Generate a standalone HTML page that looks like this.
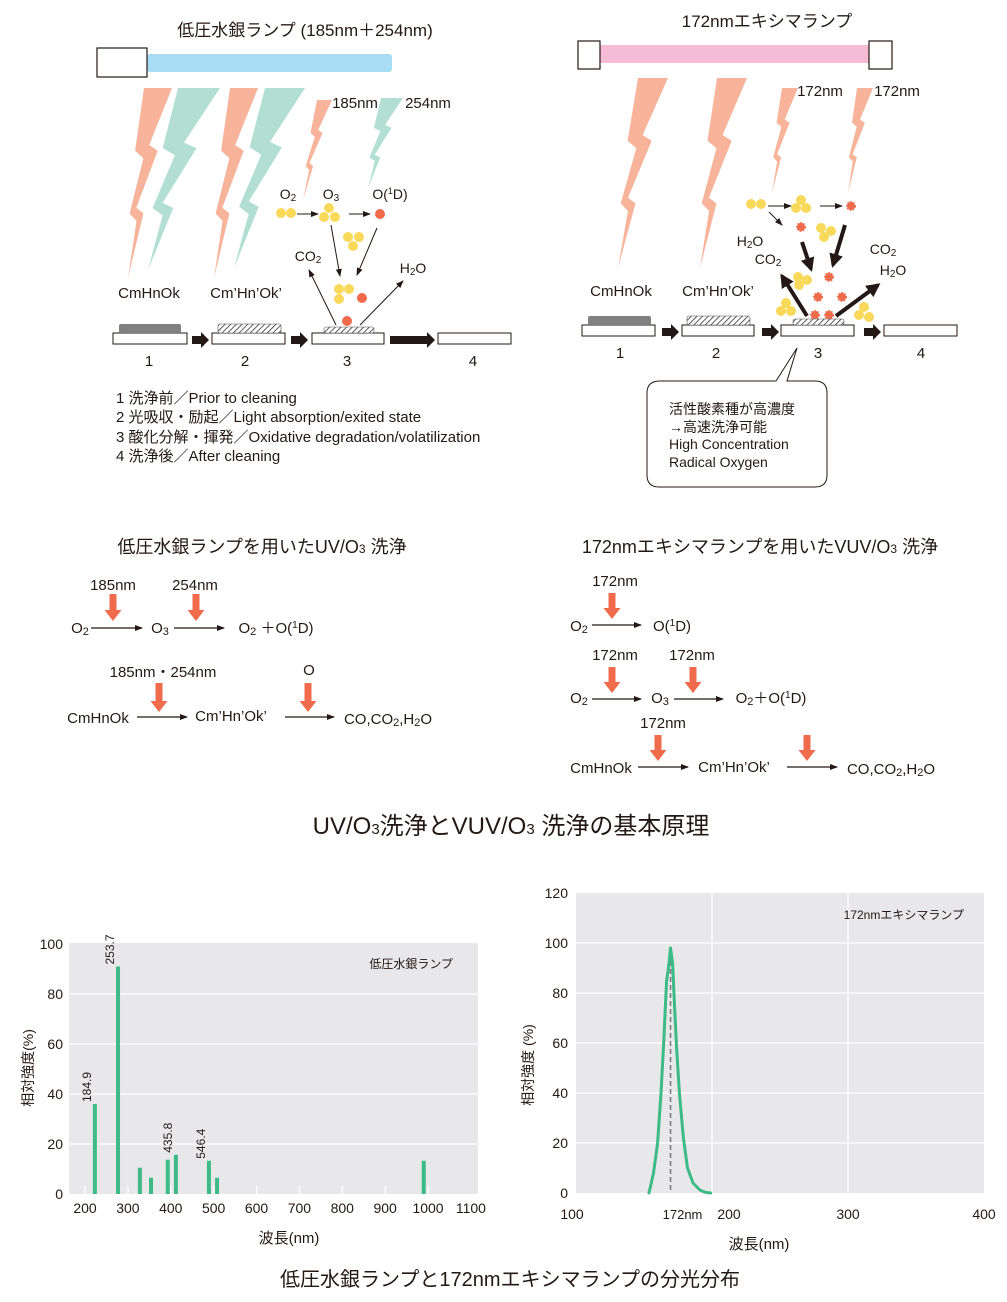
<!DOCTYPE html>
<html><head><meta charset="utf-8">
<style>
html,body{margin:0;padding:0;background:#fff;}
svg{display:block;font-family:"Liberation Sans","Noto Sans CJK JP",sans-serif;}
text{fill:#231815;}
</style></head>
<body>
<svg id="root" width="1007" height="1302" viewBox="0 0 1007 1302" xmlns="http://www.w3.org/2000/svg">
<defs>
<pattern id="hatch" width="4" height="4" patternUnits="userSpaceOnUse" patternTransform="rotate(45)">
<rect width="4" height="4" fill="#fff"/><line x1="0" y1="0" x2="0" y2="4" stroke="#333" stroke-width="1.6"/></pattern>
<marker id="ah" markerWidth="8" markerHeight="8" refX="7" refY="4" orient="auto" markerUnits="userSpaceOnUse"><path d="M0,1 L8,4 L0,7 Z" fill="#231815"/></marker>
<marker id="ahb" markerWidth="14" markerHeight="14" refX="11" refY="7" orient="auto" markerUnits="userSpaceOnUse"><path d="M0,0 L14,7 L0,14 Z" fill="#231815"/></marker>
</defs>

<!-- LEFT PANEL -->
<g>
<text x="305" y="36" font-size="17" text-anchor="middle">低圧水銀ランプ (185nm＋254nm)</text>
<rect x="147" y="54" width="245" height="18" rx="3" fill="#a8dcf5"/>
<rect x="97" y="48" width="50" height="29" fill="#fff" stroke="#231815" stroke-width="1.2"/>
<g id="boltsL"></g>
<text x="355" y="108" font-size="15" text-anchor="middle">185nm</text>
<text x="428" y="108" font-size="15" text-anchor="middle">254nm</text>
<text x="288" y="199" font-size="14" text-anchor="middle">O<tspan font-size="10" dy="2">2</tspan></text>
<text x="331" y="199" font-size="14" text-anchor="middle">O<tspan font-size="10" dy="2">3</tspan></text>
<text x="390" y="199" font-size="14" text-anchor="middle">O(<tspan font-size="9" dy="-5">1</tspan><tspan dy="5">D)</tspan></text>
<text x="308" y="261" font-size="14" text-anchor="middle">CO<tspan font-size="10" dy="2">2</tspan></text>
<text x="413" y="273" font-size="14" text-anchor="middle">H<tspan font-size="10" dy="2">2</tspan><tspan dy="-2">O</tspan></text>
<text x="149" y="298" font-size="15" text-anchor="middle">CmHnOk</text>
<text x="246" y="298" font-size="15" text-anchor="middle">Cm’Hn’Ok’</text>
<g fill="#f9d95a">
<circle cx="281" cy="213" r="5"/><circle cx="291" cy="213" r="5"/>
<circle cx="329" cy="208" r="5"/><circle cx="324" cy="217" r="5"/><circle cx="335" cy="217" r="5"/>
<circle cx="348" cy="237" r="5"/><circle cx="359" cy="237" r="5"/><circle cx="353" cy="246" r="5"/>
<circle cx="339" cy="289" r="5"/><circle cx="349" cy="289" r="5"/><circle cx="339" cy="299" r="5"/>
</g>
<g fill="#ef6b4b"><circle cx="380" cy="214" r="5"/><circle cx="362" cy="298" r="5"/><circle cx="347" cy="321" r="5"/></g>
<g stroke="#231815" stroke-width="1" marker-end="url(#ah)">
<line x1="297" y1="214" x2="318" y2="214"/><line x1="349" y1="214" x2="370" y2="214"/>
<line x1="331" y1="225" x2="340" y2="276"/><line x1="377" y1="228" x2="357" y2="275"/>
<line x1="336" y1="325" x2="309" y2="270"/><line x1="360" y1="325" x2="403" y2="281"/>
</g>
<g>
<rect x="113" y="333" width="74" height="11" fill="#fff" stroke="#231815"/>
<rect x="119" y="324" width="62" height="9" rx="2" fill="#808080"/>
<rect x="212" y="333" width="73" height="11" fill="#fff" stroke="#231815"/>
<rect x="218" y="324" width="63" height="9" rx="2" fill="url(#hatch)" stroke="#555" stroke-width=".6"/>
<rect x="312" y="333" width="72" height="11" fill="#fff" stroke="#231815"/>
<rect x="324" y="327" width="50" height="6" rx="2" fill="url(#hatch)" stroke="#555" stroke-width=".6"/>
<rect x="438" y="333" width="73" height="11" fill="#fff" stroke="#231815"/>
<path d="M192,336 h9 v-4 l8,8 l-8,8 v-4 h-9 z" fill="#231815"/>
<path d="M291,336 h9 v-4 l8,8 l-8,8 v-4 h-9 z" fill="#231815"/>
<path d="M390,336 h37 v-4 l8,8 l-8,8 v-4 h-37 z" fill="#231815"/>
</g>
<g font-size="15" text-anchor="middle"><text x="149" y="366">1</text><text x="245" y="366">2</text><text x="347" y="366">3</text><text x="473" y="366">4</text></g>
<g font-size="15">
<text x="116" y="403">1 洗浄前／Prior to cleaning</text>
<text x="116" y="422">2 光吸収・励起／Light absorption/exited state</text>
<text x="116" y="442">3 酸化分解・揮発／Oxidative degradation/volatilization</text>
<text x="116" y="461">4 洗浄後／After cleaning</text>
</g>
</g>

<!-- RIGHT PANEL -->
<g>
<text x="767" y="27" font-size="17" text-anchor="middle">172nmエキシマランプ</text>
<rect x="600" y="45" width="269" height="18" fill="#f6bcd6"/>
<rect x="578" y="41" width="22" height="28" fill="#fff" stroke="#231815" stroke-width="1.2"/>
<rect x="869" y="41" width="23" height="28" fill="#fff" stroke="#231815" stroke-width="1.2"/>
<g id="boltsR"></g>
<text x="820" y="96" font-size="15" text-anchor="middle">172nm</text>
<text x="897" y="96" font-size="15" text-anchor="middle">172nm</text>
<text x="750" y="246" font-size="14" text-anchor="middle">H<tspan font-size="10" dy="2">2</tspan><tspan dy="-2">O</tspan></text>
<text x="768" y="264" font-size="14" text-anchor="middle">CO<tspan font-size="10" dy="2">2</tspan></text>
<text x="883" y="254" font-size="14" text-anchor="middle">CO<tspan font-size="10" dy="2">2</tspan></text>
<text x="893" y="275" font-size="14" text-anchor="middle">H<tspan font-size="10" dy="2">2</tspan><tspan dy="-2">O</tspan></text>
<text x="621" y="296" font-size="15" text-anchor="middle">CmHnOk</text>
<text x="718" y="296" font-size="15" text-anchor="middle">Cm’Hn’Ok’</text>
<g fill="#f9d95a">
<circle cx="751" cy="204" r="5"/><circle cx="761" cy="204" r="5"/>
<circle cx="801" cy="200" r="5"/><circle cx="796" cy="208" r="5"/><circle cx="806" cy="208" r="5"/>
<circle cx="821" cy="228" r="5"/><circle cx="831" cy="231" r="5"/><circle cx="824" cy="237" r="5"/>
<circle cx="798" cy="277" r="5"/><circle cx="807" cy="280" r="5"/><circle cx="799" cy="285" r="5"/>
<circle cx="786" cy="303" r="5"/><circle cx="781" cy="311" r="5"/><circle cx="791" cy="311" r="5"/>
<circle cx="864" cy="307" r="5"/><circle cx="859" cy="315" r="5"/><circle cx="869" cy="317" r="5"/>
</g>
<g fill="#ef6b4b" stroke="#ef6b4b" stroke-width="2" stroke-dasharray="1.5 1.5">
<circle cx="851" cy="206" r="4"/><circle cx="801" cy="227" r="4"/><circle cx="829" cy="277" r="4"/>
<circle cx="818" cy="297" r="4"/><circle cx="842" cy="297" r="4"/><circle cx="815" cy="315" r="4"/><circle cx="829" cy="315" r="4"/>
</g>
<g stroke="#231815" stroke-width="1" marker-end="url(#ah)">
<line x1="768" y1="206" x2="791" y2="206"/><line x1="820" y1="206" x2="842" y2="206"/>
<line x1="769" y1="212" x2="782" y2="225"/>
</g>
<g stroke="#231815" stroke-width="4" marker-end="url(#ahb)">
<line x1="802" y1="242" x2="811" y2="269"/><line x1="845" y1="225" x2="833" y2="265"/>
<line x1="807" y1="316" x2="782" y2="276"/><line x1="836" y1="316" x2="878" y2="285"/>
</g>
<g>
<rect x="582" y="325" width="73" height="11" fill="#fff" stroke="#231815"/>
<rect x="588" y="316" width="63" height="9" rx="2" fill="#808080"/>
<rect x="682" y="325" width="72" height="11" fill="#fff" stroke="#231815"/>
<rect x="687" y="316" width="63" height="9" rx="2" fill="url(#hatch)" stroke="#555" stroke-width=".6"/>
<rect x="781" y="325" width="73" height="11" fill="#fff" stroke="#231815"/>
<rect x="793" y="319" width="51" height="6" rx="2" fill="url(#hatch)" stroke="#555" stroke-width=".6"/>
<rect x="884" y="325" width="73" height="11" fill="#fff" stroke="#231815"/>
<path d="M662,328 h9 v-4 l8,8 l-8,8 v-4 h-9 z" fill="#231815"/>
<path d="M762,328 h9 v-4 l8,8 l-8,8 v-4 h-9 z" fill="#231815"/>
<path d="M864,328 h9 v-4 l8,8 l-8,8 v-4 h-9 z" fill="#231815"/>
</g>
<g font-size="15" text-anchor="middle"><text x="620" y="358">1</text><text x="716" y="358">2</text><text x="818" y="358">3</text><text x="921" y="358">4</text></g>
<path d="M660,381 H776 L797,348 L787,381 H815 Q827,381 827,393 V475 Q827,487 815,487 H659 Q647,487 647,475 V393 Q647,381 660,381 Z" fill="#fff" stroke="#231815" stroke-width="1"/>
<g font-size="14"><text x="669" y="414">活性酸素種が高濃度</text><text x="669" y="432">→高速洗浄可能</text><text x="669" y="449">High Concentration</text><text x="669" y="467">Radical Oxygen</text></g>
</g>

<!-- REACTION SCHEMES -->
<g>
<text x="262" y="553" font-size="18" text-anchor="middle">低圧水銀ランプを用いたUV/O<tspan font-size="12">3</tspan> 洗浄</text>
<g font-size="15" text-anchor="middle">
<text x="113" y="590">185nm</text><text x="195" y="590">254nm</text>
<text x="80" y="633">O<tspan font-size="11" dy="2">2</tspan></text>
<text x="160" y="633">O<tspan font-size="11" dy="2">3</tspan></text>
<text x="276" y="633">O<tspan font-size="11" dy="2">2</tspan><tspan dy="-2">  ＋O(</tspan><tspan font-size="10" dy="-5">1</tspan><tspan dy="5">D)</tspan></text>
<text x="163" y="677">185nm・254nm</text><text x="309" y="675">O</text>
<text x="98" y="723">CmHnOk</text><text x="231" y="721">Cm’Hn’Ok’</text>
<text x="388" y="724">CO,CO<tspan font-size="11" dy="2">2</tspan><tspan dy="-2">,H</tspan><tspan font-size="11" dy="2">2</tspan><tspan dy="-2">O</tspan></text>
</g>
<g stroke="#231815" stroke-width="1.2" marker-end="url(#ah)">
<line x1="91" y1="628" x2="142" y2="628"/><line x1="174" y1="628" x2="224" y2="628"/>
<line x1="137" y1="717" x2="187" y2="717"/><line x1="285" y1="717" x2="334" y2="717"/>
</g>
<g id="redL"></g>
</g>
<g>
<text x="760" y="553" font-size="18" text-anchor="middle">172nmエキシマランプを用いたVUV/O<tspan font-size="12">3</tspan> 洗浄</text>
<g font-size="15" text-anchor="middle">
<text x="615" y="586">172nm</text>
<text x="579" y="631">O<tspan font-size="11" dy="2">2</tspan></text><text x="672" y="631">O(<tspan font-size="10" dy="-5">1</tspan><tspan dy="5">D)</tspan></text>
<text x="615" y="660">172nm</text><text x="692" y="660">172nm</text>
<text x="579" y="703">O<tspan font-size="11" dy="2">2</tspan></text><text x="660" y="703">O<tspan font-size="11" dy="2">3</tspan></text>
<text x="771" y="703">O<tspan font-size="11" dy="2">2</tspan><tspan dy="-2">＋O(</tspan><tspan font-size="10" dy="-5">1</tspan><tspan dy="5">D)</tspan></text>
<text x="663" y="728">172nm</text>
<text x="601" y="773">CmHnOk</text><text x="734" y="772">Cm’Hn’Ok’</text>
<text x="891" y="774">CO,CO<tspan font-size="11" dy="2">2</tspan><tspan dy="-2">,H</tspan><tspan font-size="11" dy="2">2</tspan><tspan dy="-2">O</tspan></text>
</g>
<g stroke="#231815" stroke-width="1.2" marker-end="url(#ah)">
<line x1="592" y1="625" x2="641" y2="625"/><line x1="592" y1="699" x2="641" y2="699"/>
<line x1="674" y1="699" x2="723" y2="699"/><line x1="638" y1="767" x2="688" y2="767"/>
<line x1="787" y1="767" x2="837" y2="767"/>
</g>
<g id="redR"></g>
</g>
<text x="511" y="834" font-size="24" text-anchor="middle">UV/O<tspan font-size="15">3</tspan>洗浄とVUV/O<tspan font-size="15">3</tspan> 洗浄の基本原理</text>

<!-- CHARTS -->
<g id="chartL"></g>
<g id="chartR"></g>
<text x="510" y="1286" font-size="20" text-anchor="middle">低圧水銀ランプと172nmエキシマランプの分光分布</text>
</svg>

<script>
// ---- Left chart data (mercury lamp) ----
const hgPositions = [223, 277, 328, 354, 393, 412, 489, 508, 990];
const hgValues = [36, 91, 10.5, 6.5, 13.7, 15.7, 13.3, 6.5, 13.3];
const hgLabels = ["184.9", "253.7", "", "", "", "435.8", "546.4", "", ""];
const hgXTicks = [200, 300, 400, 500, 600, 700, 800, 900, 1000, 1100];
const hgYTicks = [0, 20, 40, 60, 80, 100];
// ---- Right chart data (excimer lamp) ----
const exWavelengths = [153.7, 157, 160, 162.5, 164.5, 166.6, 168, 169.5, 171, 172.4, 174, 176, 179, 182, 186, 191, 195, 199];
const exValues = [0, 8, 20, 40, 60, 85, 90, 98, 92, 75, 58, 40, 22, 10, 4, 1.2, 0.3, 0];
const exXTicks = [100, 200, 300, 400];
const exYTicks = [0, 20, 40, 60, 80, 100, 120];
const exPeak = [172];

const NS = "http://www.w3.org/2000/svg";
function mk(parent, tag, attrs, txt) {
  const e = document.createElementNS(NS, tag);
  for (const k in attrs) e.setAttribute(k, attrs[k]);
  if (txt !== undefined) e.textContent = txt;
  parent.appendChild(e);
  return e;
}

// bolts: wide wedge with two zigzag steps
function bolt(parent, x, y, w, h, tipX, color) {
  const c = t => x + w / 2 + (tipX - x - w / 2) * t;
  const d = t => w * (1 - t) * 0.95 + w * 0.05;
  const Y = t => (y + t * h).toFixed(1);
  const pts = [
    [c(0) - d(0) / 2, 0], [c(0) + d(0) / 2, 0],
    [c(0.3) + d(0.3) / 2 - 0.35 * w, 0.3], [c(0.33) + d(0.33) / 2, 0.33],
    [c(0.63) + d(0.63) / 2 - 0.3 * w, 0.63], [c(0.66) + d(0.66) / 2, 0.66],
    [tipX, 1],
    [c(0.7) - d(0.7) / 2 + 0.15 * w, 0.7], [c(0.66) - d(0.66) / 2 - 0.12 * w, 0.66],
    [c(0.37) - d(0.37) / 2 + 0.2 * w, 0.37], [c(0.33) - d(0.33) / 2 - 0.12 * w, 0.33]
  ];
  const p = pts.map(([px, t]) => px.toFixed(1) + "," + Y(t)).join(" ");
  const e = mk(parent, "polygon", {points: p, fill: color});
  
  
}
const SAL = "#f8b49a", TEA = "#b3dfd2";
const bL = document.getElementById("boltsL");
bolt(bL, 144, 88, 28, 190, 128, SAL);
bolt(bL, 178, 88, 42, 182, 148, TEA);
bolt(bL, 230, 88, 28, 190, 214, SAL);
bolt(bL, 265, 88, 40, 180, 234, TEA);
bolt(bL, 317, 100, 15, 100, 303, SAL);
bolt(bL, 381, 98, 22, 90, 368, TEA);
const bR = document.getElementById("boltsR");
bolt(bR, 638, 78, 30, 190, 618, SAL);
bolt(bR, 717, 78, 30, 190, 700, SAL);
bolt(bR, 782, 88, 16, 105, 772, SAL);
bolt(bR, 857, 88, 16, 105, 848, SAL);

// red down arrows
function redArrow(parent, cx, y1, y2) {
  const e = mk(parent, "path", {d: `M${cx-3.5},${y1} h7 v${y2-y1-11} h5 l-8.5,11 l-8.5,-11 h5 z`, fill: "#ef6b4b"});
  
  
}
const rL = document.getElementById("redL");
redArrow(rL, 113, 594, 621); redArrow(rL, 196, 594, 621);
redArrow(rL, 159, 683, 712); redArrow(rL, 308, 683, 712);
const rR = document.getElementById("redR");
redArrow(rR, 612, 593, 619); redArrow(rR, 612, 667, 693); redArrow(rR, 693, 667, 693);
redArrow(rR, 658, 735, 761); redArrow(rR, 807, 735, 761);

// ---- Left chart ----
(function(){
  const g = document.getElementById("chartL");
  const X0 = 69, X1 = 478, Y0 = 1194, Y1 = 944;
  const xs = w => 85 + (w - 200) * 0.4288;
  const ys = v => Y0 - (v / 100) * (Y0 - Y1);
  const bg = mk(g, "rect", {x: X0, y: Y1 - 1, width: X1 - X0, height: Y0 - Y1 + 1, fill: "#e8e8ea"});
  
  
  hgYTicks.forEach(v => {
    if (v > 0 && v < 100) mk(g, "line", {x1: X0, x2: X1, y1: ys(v), y2: ys(v), stroke: "#fff", "stroke-width": 1.2});
    const t = mk(g, "text", {x: 63, y: ys(v) + 5, "font-size": 14, "text-anchor": "end"}, v);
    
    
  });
  hgXTicks.forEach(v => {
    if (v < 1100) mk(g, "line", {x1: xs(v), x2: xs(v), y1: Y0, y2: Y0 - 8, stroke: "#fff", "stroke-width": 1.2});
    const t = mk(g, "text", {x: xs(v), y: 1213, "font-size": 14, "text-anchor": "middle"}, v);
    
    
  });
  hgValues.forEach((v, i) => {
    const x = xs(hgPositions[i]);
    const b = mk(g, "rect", {x: x - 2, y: ys(v), width: 4, height: Y0 - ys(v), fill: "#3dba86"});
    
    
    if (hgLabels[i]) {
      const lx = x - 4, ly = ys(v) - 2;
      const t = mk(g, "text", {x: lx, y: ly, "font-size": 12, transform: `rotate(-90 ${lx} ${ly})`}, hgLabels[i]);
      
      
    }
  });
  mk(g, "text", {x: 453, y: 968, "font-size": 12, "text-anchor": "end"}, "低圧水銀ランプ");
  mk(g, "text", {x: 289, y: 1243, "font-size": 15, "text-anchor": "middle"}, "波長(nm)");
  mk(g, "text", {x: 33, y: 1068, "font-size": 14, "text-anchor": "middle", transform: "rotate(-90 33 1068)"}, "相対強度(%)");
})();

// ---- Right chart ----
(function(){
  const g = document.getElementById("chartR");
  const X0 = 576, X1 = 984, Y0 = 1193, Y1 = 893;
  const xs = w => X0 + (w - 100) / 300 * (X1 - X0);
  const ys = v => Y0 - (v / 120) * (Y0 - Y1);
  const bg = mk(g, "rect", {x: X0, y: Y1, width: X1 - X0, height: Y0 - Y1, fill: "#e8e8ea"});
  
  
  exYTicks.forEach(v => {
    if (v > 0 && v < 120) mk(g, "line", {x1: X0, x2: X1, y1: ys(v), y2: ys(v), stroke: "#fff", "stroke-width": 1.2});
    const t = mk(g, "text", {x: 568, y: ys(v) + 5, "font-size": 14, "text-anchor": "end"}, v);
    
    
  });
  exXTicks.forEach(v => {
    if (v > 100 && v < 400) mk(g, "line", {x1: xs(v), x2: xs(v), y1: Y1, y2: Y0, stroke: "#fff", "stroke-width": 1.2});
    const off = v === 200 ? 17 : (v === 100 ? -4 : 0);
    const t = mk(g, "text", {x: xs(v) + off, y: 1219, "font-size": 14, "text-anchor": "middle"}, v);
    
    
  });
  const px = xs(exPeak[0] - 2.5);
  const dl = mk(g, "line", {x1: px, x2: px, y1: ys(96), y2: Y0, stroke: "#777", "stroke-width": 1.5, "stroke-dasharray": "5 3"});
  
  
  const d = exWavelengths.map((w, i) => (i ? "L" : "M") + xs(w).toFixed(1) + "," + ys(exValues[i]).toFixed(1)).join(" ");
  const ln = mk(g, "path", {d: d, fill: "none", stroke: "#3dba86", "stroke-width": 3, "stroke-linejoin": "round", "stroke-linecap": "round"});
  
  
  mk(g, "text", {x: px + 12, y: 1219, "font-size": 13, "text-anchor": "middle"}, exPeak[0] + "nm");
  mk(g, "text", {x: 964, y: 919, "font-size": 12, "text-anchor": "end"}, "172nmエキシマランプ");
  mk(g, "text", {x: 759, y: 1249, "font-size": 15, "text-anchor": "middle"}, "波長(nm)");
  mk(g, "text", {x: 533, y: 1065, "font-size": 14, "text-anchor": "middle", transform: "rotate(-90 533 1065)"}, "相対強度 (%)");
})();
</script>
</body></html>
